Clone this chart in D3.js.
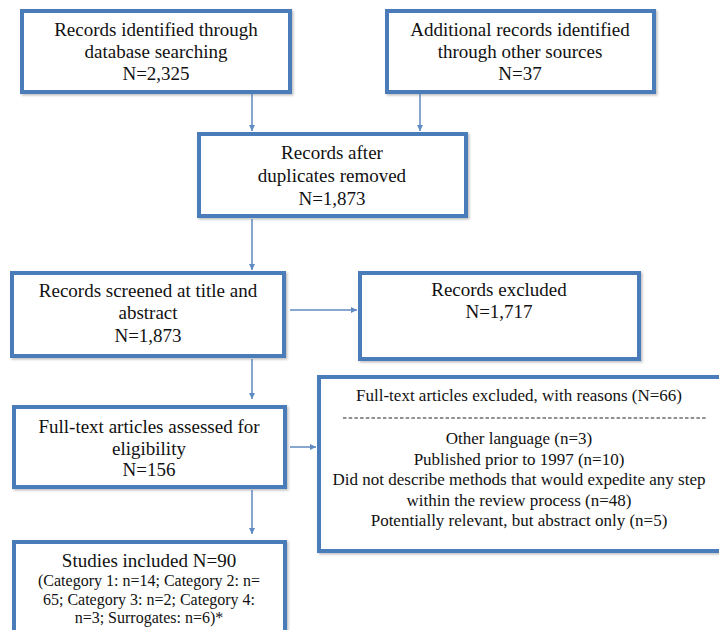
<!DOCTYPE html>
<html><head><meta charset="utf-8">
<script src="https://cdn.jsdelivr.net/npm/d3@7/dist/d3.min.js"></script>
<style>html,body{margin:0;padding:0;background:#fff;overflow:hidden}
svg text{font-family:"Liberation Serif","Times New Roman",Tinos,"DejaVu Serif",serif;}</style>
</head><body><svg id="c" width="719" height="630"></svg>
<script>
// ---- data ----
const stageKeys   = ["database","other","dedup","screened","excluded","fulltext","ftExcluded","included"];
const stageCounts = [2325, 37, 1873, 1873, 1717, 156, 66, 90];
const stageLabels = [
  ["Records identified through","database searching"],
  ["Additional records identified","through other sources"],
  ["Records after","duplicates removed"],
  ["Records screened at title and","abstract"],
  ["Records excluded"],
  ["Full-text articles assessed for","eligibility"],
  ["Full-text articles excluded, with reasons"],
  ["Studies included"]
];
const exclusionReasons = ["Other language","Published prior to 1997","Did not describe methods that would expedite any step","within the review process","Potentially relevant, but abstract only"];
const exclusionCounts  = [3, 10, null, 48, 5];
const categoryNames  = ["Category 1","Category 2","Category 3","Category 4","Surrogates"];
const categoryCounts = [14, 65, 2, 3, 6];
const flowLinks = [["database","dedup"],["other","dedup"],["dedup","screened"],["screened","excluded"],["screened","fulltext"],["fulltext","ftExcluded"],["fulltext","included"]];

// ---- layout ----
const svg = d3.select("#c");
const fmt = d3.format(",");
const boxColor = "#4a7cb9", arrowColor = "#5f8ac2";
const geom = {
  database:  {x:22, y:11, w:268, h:81, cx:156, base:[36,58,80], fs:19},
  other:     {x:387,y:11, w:267, h:81, cx:520, base:[36,58,80], fs:19},
  dedup:     {x:199,y:134,w:267, h:82, cx:332, base:[159,182,205], fs:19},
  screened:  {x:12, y:273,w:272, h:83, cx:148, base:[297,319,342], fs:19},
  excluded:  {x:360,y:273,w:279, h:86, cx:499, base:[296,318], fs:19},
  fulltext:  {x:14, y:407,w:271, h:80, cx:149, base:[433,455,476], fs:19},
  ftExcluded:{x:319,y:377,w:420, h:174,cx:519, base:[401], fs:17},
  included:  {x:14, y:542,w:271, h:120,cx:149, base:[567], fs:19}
};

const defs = svg.append("defs");
defs.append("marker").attr("id","ah").attr("viewBox","0 0 10 10").attr("refX",10).attr("refY",5)
  .attr("markerWidth",6).attr("markerHeight",6).attr("markerUnits","userSpaceOnUse").attr("orient","auto")
  .append("path").attr("d","M0,0L10,5L0,10z").attr("fill",arrowColor);
const f = defs.append("filter").attr("id","sh").attr("x","-5%").attr("y","-5%").attr("width","115%").attr("height","115%");
f.append("feDropShadow").attr("dx",1.5).attr("dy",1.5).attr("stdDeviation",1).attr("flood-color","#000").attr("flood-opacity",0.25);

// boxes
stageKeys.forEach(k=>{
  const g = geom[k];
  svg.append("rect").attr("x",g.x).attr("y",g.y).attr("width",g.w).attr("height",g.h)
    .attr("fill","#fff").attr("stroke",boxColor).attr("stroke-width",4).attr("filter","url(#sh)");
});

// arrows
const arrowPaths = {
  "database>dedup":      [[252,94],[252,131]],
  "other>dedup":         [[420,94],[420,131]],
  "dedup>screened":      [[252,219],[252,270]],
  "screened>excluded":   [[290,310],[357,310]],
  "screened>fulltext":   [[252,359],[252,399]],
  "fulltext>ftExcluded": [[290,447],[316,447]],
  "fulltext>included":   [[252,490],[252,534]]
};
flowLinks.forEach(([a,b])=>{
  const p = arrowPaths[a+">"+b];
  svg.append("line").attr("x1",p[0][0]).attr("y1",p[0][1]).attr("x2",p[1][0]).attr("y2",p[1][1])
    .attr("stroke",arrowColor).attr("stroke-width",1.5).attr("marker-end","url(#ah)");
});

function txt(x,y,s,fs){
  svg.append("text").attr("x",x).attr("y",y).attr("text-anchor","middle")
    .attr("font-size",fs).attr("fill","#111").text(s);
}

// labels
stageKeys.forEach((k,i)=>{
  const g = geom[k];
  let lines = stageLabels[i].slice();
  if (k==="ftExcluded") lines[0] = lines[0] + " (N=" + fmt(stageCounts[i]) + ")";
  else if (k==="included") lines[0] = lines[0] + " N=" + fmt(stageCounts[i]);
  else lines.push("N=" + fmt(stageCounts[i]));
  lines.forEach((s,j)=>txt(g.cx, g.base[j], s, g.fs));
});

// exclusion reasons
svg.append("line").attr("x1",343).attr("x2",707).attr("y1",418).attr("y2",418)
  .attr("stroke","#222").attr("stroke-width",1).attr("stroke-dasharray","3.5,2.2");
exclusionReasons.forEach((r,i)=>{
  const s = exclusionCounts[i]==null ? r : r + " (n=" + exclusionCounts[i] + ")";
  txt(519, 444 + i*20.5, s, 17);
});

// categories (wrapped as in source)
const catText = "(" + categoryNames.map((c,i)=>c+": n="+categoryCounts[i]).join("; ") + ")*";
const catLines = [catText.slice(0, catText.indexOf("65")), catText.slice(catText.indexOf("65"), catText.indexOf("n=3")), catText.slice(catText.indexOf("n=3"))];
catLines.forEach((s,i)=>txt(149, 586 + i*18.5, s.trim(), 16));
</script></body></html>
